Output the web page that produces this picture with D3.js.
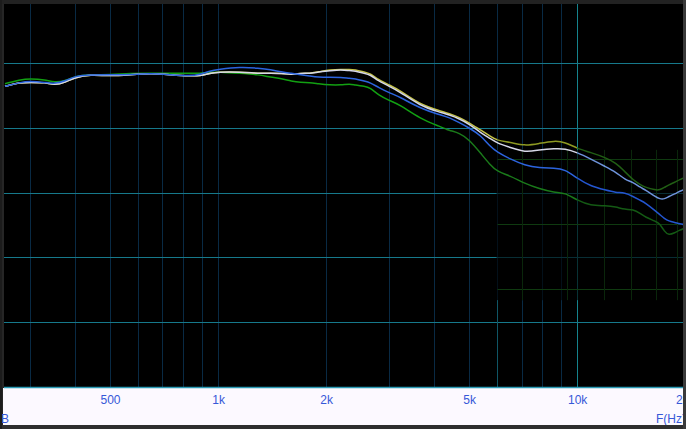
<!DOCTYPE html>
<html><head><meta charset="utf-8">
<script src="https://cdn.jsdelivr.net/npm/d3@7"></script>
<style>body{margin:0;background:#262626;overflow:hidden} svg{display:block}</style>
</head><body><svg id="c" width="686" height="429"></svg>
<script>
const freqs = [255,280,300,330,350,375,400,440,500,570,650,735,835,890,950,1000,1150,1300,1400,1500,1600,1700,1800,1900,2050,2200,2330,2400,2560,2650,2800,3000,3200,3650,4150,4400,4700,5000,5400,5700,6000,6500,7150,7850,8650,9250,10000,10900,12000,12800,13600,14300,15000,15500,16500,17000,17500,18000,18700,19300,20100];
const yellowDb = [88.2,88.5,88.5,88.5,88.3,88.5,88.9,89.1,89.0,89.1, 89.2,89.1,89.0,89.0,89.2,89.3,89.3,89.2,89.2,89.2, 89.1,89.2,89.2,89.3,89.5,89.5,89.5,89.5,89.3,89.2, 88.7,88.3,87.9,86.8,86.3,86.1,85.8,85.4,84.8,84.4, 84.0,83.9,83.6,83.8,84.0,83.9,83.4,83.1,82.7,82.3, 81.6,81.0,80.6,80.4,80.2,80.2,80.4,80.6,80.8,81.0,81.2];
const whiteDb = [88.2,88.5,88.5,88.5,88.3,88.5,88.9,89.1,89.0,89.1, 89.2,89.1,89.0,89.0,89.2,89.3,89.3,89.2,89.2,89.2, 89.1,89.2,89.2,89.3,89.4,89.5,89.4,89.4,89.2,89.1, 88.6,88.2,87.8,86.7,86.2,86.0,85.7,85.3,84.6,84.2, 83.8,83.5,83.1,83.3,83.4,83.4,83.1,82.6,82.0,81.6, 81.0,80.8,80.4,80.2,79.7,79.5,79.5,79.7,79.9,80.1,80.3];
const blueDb = [88.2,88.5,88.6,88.5,88.4,88.6,89.0,89.1,89.1,89.1, 89.2,89.1,89.0,89.1,89.4,89.5,89.7,89.6,89.5,89.3, 89.2,89.1,89.0,88.9,88.9,88.9,88.8,88.8,88.6,88.5, 88.1,87.7,87.4,86.5,86.0,85.8,85.4,85.0,84.4,83.6, 83.1,82.6,82.1,81.9,81.9,81.8,81.1,80.5,80.2,80.0, 80.0,79.7,79.4,79.2,78.6,78.3,78.0,77.8,77.7,77.6,77.5];
const greenDb = [88.4,88.7,88.8,88.7,88.5,88.6,89.0,89.1,89.1,89.2, 89.2,89.2,89.2,89.2,89.3,89.3,89.2,89.1,88.9,88.8, 88.6,88.5,88.5,88.4,88.3,88.3,88.4,88.3,88.2,88.1, 87.5,87.1,86.8,85.7,85.1,84.8,84.6,84.1,83.0,82.2, 81.6,81.3,80.7,80.3,80.0,80.0,79.4,79.0,79.0,78.9, 78.7,78.7,78.4,78.1,77.8,77.6,77.0,76.7,76.9,77.1,77.3];

const xTickValues = [500,1000,2000,5000,10000,20000];
const xTickLabels = ["500","1k","2k","5k","10k","20k"];
const freqGrid = [300,400,500,600,700,800,900,1000,2000,3000,4000,5000,6000,7000,8000,9000,10000,20000];
const dbGrid = [90,85,80,75,70];
const insetDbGrid = [82.6,77.6,72.6];
const insetFreqGrid = [7000,9400,11850,14100,16600,19000];
const insetFreqRange = [6000,20100];
const insetDbRange = [83.3,71.7];

const W = 686, H = 429;
const plot = {l:4, r:683, t:4, b:387};
const x = d3.scaleLog().domain([255,20100]).range([5,686]);
const y = d3.scaleLinear().domain([65,90]).range([387,63]);

const svg = d3.select("#c");
svg.append("rect").attr("width",W).attr("height",H).attr("fill","#262626");
svg.append("rect").attr("x",plot.l).attr("y",plot.t).attr("width",plot.r-plot.l).attr("height",plot.b-plot.t).attr("fill","#000");

const defs = svg.append("defs");
defs.append("clipPath").attr("id","plotclip").append("rect")
  .attr("x",plot.l).attr("y",plot.t).attr("width",plot.r-plot.l).attr("height",plot.b-plot.t);

const g = svg.append("g").attr("clip-path","url(#plotclip)");

// vertical grid
g.selectAll("line.vg").data(freqGrid).join("line")
  .attr("x1",d=>Math.round(x(d))+0.5).attr("x2",d=>Math.round(x(d))+0.5)
  .attr("y1",plot.t).attr("y2",plot.b)
  .attr("stroke",d=>d===10000?"#15838d":"#092a44").attr("stroke-width",1);
// horizontal grid
g.selectAll("line.hg").data(dbGrid).join("line")
  .attr("x1",plot.l).attr("x2",plot.r)
  .attr("y1",d=>Math.round(y(d))+0.5).attr("y2",d=>Math.round(y(d))+0.5)
  .attr("stroke","#16798b").attr("stroke-width",1);

// inset dimmed panel
const ix0 = x(insetFreqRange[0]), ix1 = x(insetFreqRange[1]);
const iy0 = y(insetDbRange[0]), iy1 = y(insetDbRange[1]);
g.append("rect").attr("x",ix0-1).attr("y",iy0).attr("width",ix1-ix0+1).attr("height",iy1-iy0)
  .attr("fill","#000").attr("opacity",0.62);
g.append("line").attr("x1",Math.round(x(6000))+0.5).attr("x2",Math.round(x(6000))+0.5)
  .attr("y1",iy1).attr("y2",plot.b).attr("stroke","#0f5666").attr("stroke-width",1);
g.selectAll("line.ih").data(insetDbGrid).join("line")
  .attr("x1",ix0).attr("x2",ix1)
  .attr("y1",d=>Math.round(y(d))+0.5).attr("y2",d=>Math.round(y(d))+0.5)
  .attr("stroke","#0f3a10").attr("stroke-width",1);
g.selectAll("line.iv").data(insetFreqGrid).join("line")
  .attr("x1",d=>Math.round(x(d))+0.5).attr("x2",d=>Math.round(x(d))+0.5)
  .attr("y1",iy0).attr("y2",iy1)
  .attr("stroke","#0a260b").attr("stroke-width",1);

// curves
const line = d3.line().x((d,i)=>x(freqs[i])).y(d=>y(d)).curve(d3.curveBasis);
let clipId = 0;
function drawSeries(vals, segs, w){
  let prev = 200;
  segs.forEach(s=>{
    const id = "seg"+(clipId++);
    const x0 = x(prev), x1 = x(s.to);
    defs.append("clipPath").attr("id",id).append("rect")
      .attr("x",x0).attr("y",0).attr("width",x1-x0).attr("height",H);
    g.append("path").datum(vals).attr("d",line).attr("fill","none")
      .attr("stroke",s.color).attr("stroke-width",w).attr("stroke-linejoin","round")
      .attr("clip-path","url(#"+id+")");
    prev = s.to;
  });
}
drawSeries(greenDb, [{to:4300,color:"#12a012"},{to:10000,color:"#1a7a1a"},{to:30000,color:"#145a14"}], 1.5);
drawSeries(yellowDb, [{to:6000,color:"#c4c248"},{to:10000,color:"#8e9a22"},{to:30000,color:"#215e14"}], 1.5);
drawSeries(whiteDb, [{to:10000,color:"#d6d8e8"},{to:30000,color:"#6f94dc"}], 1.5);
drawSeries(blueDb, [{to:10000,color:"#2c64de"},{to:30000,color:"#2456d0"}], 1.5);

// bottom band
svg.append("rect").attr("x",plot.l-1).attr("y",388).attr("width",plot.r-plot.l+1).attr("height",37).attr("fill","#fcf9ff");
svg.append("line").attr("x1",plot.l).attr("x2",plot.r).attr("y1",387.5).attr("y2",387.5).attr("stroke","#2a9ab4").attr("stroke-width",1.5);

const axis = d3.axisBottom(x).tickValues(xTickValues).tickSize(0).tickPadding(0)
  .tickFormat((d,i)=>xTickLabels[i]);
const ax = svg.append("g").attr("transform","translate(0,395)").call(axis);
ax.select(".domain").remove();
ax.selectAll("text").attr("fill","#3658d8").attr("font-family","Liberation Sans, Arial, sans-serif")
  .attr("font-size",12).attr("dy","0.71em").attr("y",0);

svg.append("text").attr("x",9).attr("y",423).attr("text-anchor","end").attr("fill","#3658d8")
  .attr("font-family","Liberation Sans, Arial, sans-serif").attr("font-size",12).text("dB");
svg.append("text").attr("x",656).attr("y",423).attr("fill","#3658d8")
  .attr("font-family","Liberation Sans, Arial, sans-serif").attr("font-size",12).text("F(Hz)");

// frame borders
svg.append("rect").attr("x",0).attr("y",0).attr("width",W).attr("height",4).attr("fill","#222");
svg.append("rect").attr("x",0).attr("y",425).attr("width",W).attr("height",4).attr("fill","#2e2e2e");
svg.append("rect").attr("x",0).attr("y",0).attr("width",2).attr("height",H).attr("fill","#1c1c1c");
svg.append("rect").attr("x",683).attr("y",0).attr("width",3).attr("height",H).attr("fill","#3a3a3a");
</script></body></html>
